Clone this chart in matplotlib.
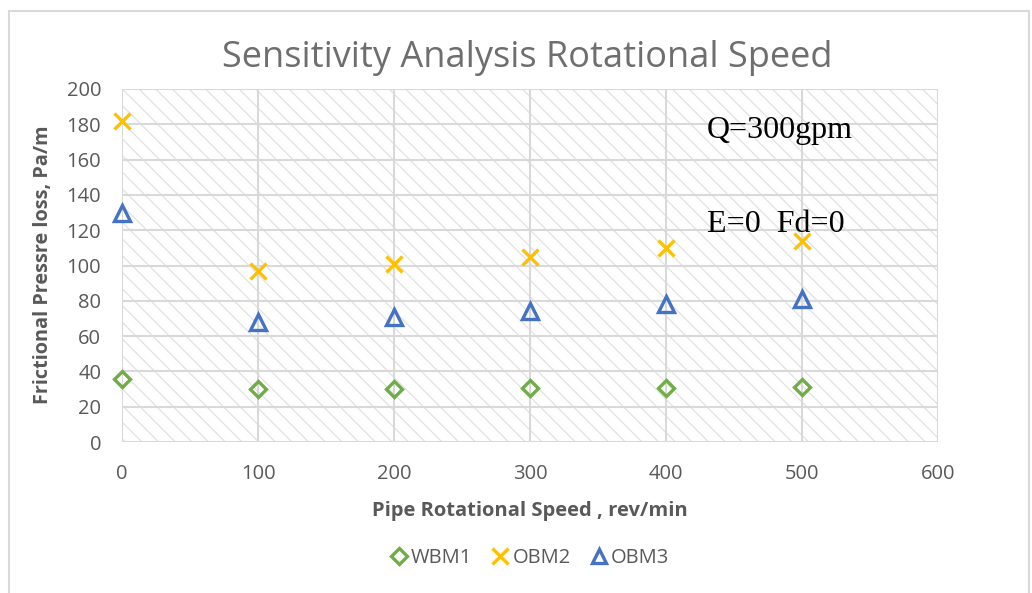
import matplotlib
matplotlib.use("Agg")
import matplotlib.pyplot as plt
from matplotlib.patches import Rectangle
from matplotlib.lines import Line2D

speed = [0, 100, 200, 300, 400, 500]
wbm1 = [35.6, 30.0, 30.3, 30.5, 30.8, 31.2]
obm2 = [182, 97, 101, 105, 110, 114]
obm3 = [130, 68, 71, 74, 78, 81]
xticks = [0, 100, 200, 300, 400, 500, 600]
yticks = [0, 20, 40, 60, 80, 100, 120, 140, 160, 180, 200]

W, H = 1032, 593
fig = plt.figure(figsize=(W / 100, H / 100), dpi=100)
plt.rcParams['hatch.linewidth'] = 0.9
plt.rcParams['hatch.color'] = '#e2e2e2'

# outer chart border
fig.patches.append(Rectangle((9 / W, -0.01), (1029 - 9) / W, (H - 11) / H + 0.01,
                             transform=fig.transFigure, fill=False,
                             edgecolor='#d9d9d9', lw=1.5))

left, right, top, bottom = 122, 938, 89, 442
ax = fig.add_axes([left / W, 1 - bottom / H, (right - left) / W, (bottom - top) / H])
ax.set_xlim(0, 600)
ax.set_ylim(0, 200)

ax.add_patch(Rectangle((0, 0), 600, 200, facecolor='white', hatch='\\\\',
                       edgecolor='#e2e2e2', lw=0, zorder=0))
for s in ax.spines.values():
    s.set_visible(False)
ax.set_xticks(xticks)
ax.set_yticks(yticks)
ax.grid(True, color='#d9d9d9', lw=1.5, zorder=1)
ax.set_axisbelow(True)
ax.tick_params(length=0, labelsize=14.5, labelcolor='#595959')
ax.tick_params(axis='x', pad=16)
ax.tick_params(axis='y', pad=15)
for lab in ax.get_xticklabels() + ax.get_yticklabels():
    lab.set_fontfamily('Open Sans')

ax.plot(speed, wbm1, linestyle='none', marker='D', ms=8.5, mfc='none', mec='#70ad47', mew=2.4, zorder=3, label='WBM1', clip_on=False)
ax.plot(speed, obm2, linestyle='none', marker='x', ms=12, mec='#ffc000', mew=2.4, zorder=3, label='OBM2', clip_on=False)
ax.plot(speed, obm3, linestyle='none', marker='^', ms=11, mfc='none', mec='#4472c4', mew=2.4, zorder=3, label='OBM3', clip_on=False)

ax.text(430, 172, 'Q=300gpm', family='Liberation Serif', fontsize=23, color='black', va='baseline')
ax.text(430, 119, 'E=0  Fd=0', family='Liberation Serif', fontsize=23, color='black', va='baseline')

fig.text(527 / W, 1 - 58 / H, 'Sensitivity Analysis Rotational Speed', ha='center', va='center',
         family='Open Sans', fontsize=26, color='#6e6e6e')
fig.text(530 / W, 1 - 511 / H, 'Pipe Rotational Speed , rev/min', ha='center', va='center',
         family='Open Sans', fontsize=14.5, fontweight='bold', color='#595959')
fig.text(43 / W, 1 - 265 / H, 'Frictional Pressre loss, Pa/m', ha='center', va='center',
         rotation=90, family='Open Sans', fontsize=14.3, fontweight='bold', color='#595959')

handles = [Line2D([], [], ls='none', marker='D', ms=8, mfc='none', mec='#70ad47', mew=2.4),
           Line2D([], [], ls='none', marker='x', ms=11, mec='#ffc000', mew=2.4),
           Line2D([], [], ls='none', marker='^', ms=10, mfc='none', mec='#4472c4', mew=2.4)]
leg = fig.legend(handles, ['WBM1', 'OBM2', 'OBM3'], loc='center', bbox_to_anchor=(530 / W, 1 - 558 / H),
                 ncol=3, frameon=False, handlelength=0.8, handletextpad=0.2, columnspacing=1.0,
                 prop={'family': 'Open Sans', 'size': 14.5})
for t in leg.get_texts():
    t.set_color('#595959')

fig.savefig('out.png', dpi=100)
